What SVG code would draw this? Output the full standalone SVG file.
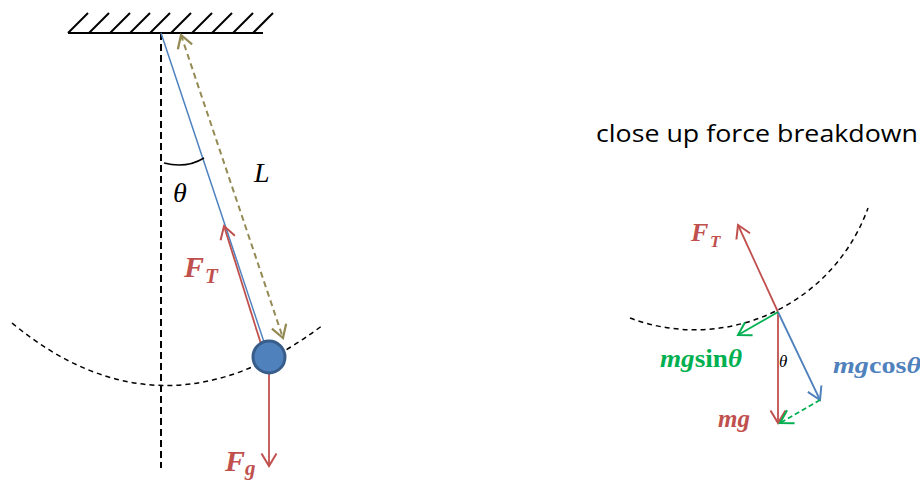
<svg xmlns="http://www.w3.org/2000/svg" width="920" height="481" viewBox="0 0 920 481">
<style>
.blk{stroke:#000;fill:none}
.math{font-family:"Liberation Serif","Times New Roman",serif;font-style:italic;font-weight:bold}
.it{font-family:"Liberation Serif","Times New Roman",serif;font-style:italic}
.up{font-style:normal}
.red{fill:#c0504d}
.blue{fill:#4f81bd}
.green{fill:#00b050}
</style>
<defs>
<marker id="aRed" markerUnits="userSpaceOnUse" orient="auto" markerWidth="20" markerHeight="20" viewBox="-12 -8 14 16" refX="0" refY="0"><path d="M-10,-6 L0,0 L-10,6" fill="none" stroke="#c0504d" stroke-width="1.6"/></marker>
<marker id="aBlue" markerUnits="userSpaceOnUse" orient="auto" markerWidth="20" markerHeight="20" viewBox="-12 -8 14 16" refX="0" refY="0"><path d="M-10,-6 L0,0 L-10,6" fill="none" stroke="#4f81bd" stroke-width="1.6"/></marker>
<marker id="aGreen" markerUnits="userSpaceOnUse" orient="auto" markerWidth="20" markerHeight="20" viewBox="-12 -8 14 16" refX="0" refY="0"><path d="M-10,-6 L0,0 L-10,6" fill="none" stroke="#00b050" stroke-width="1.6"/></marker>
<marker id="aOlive" markerUnits="userSpaceOnUse" orient="auto-start-reverse" markerWidth="20" markerHeight="20" viewBox="-12 -8 14 16" refX="0" refY="0"><path d="M-10,-6 L0,0 L-10,6" fill="none" stroke="#948a54" stroke-width="1.8"/></marker>
</defs>

<g id="ceiling" stroke="#000" stroke-width="2">
<line x1="68" y1="33" x2="263" y2="33"/>
<line x1="68" y1="33" x2="88" y2="13"/>
<line x1="89" y1="33" x2="109" y2="13"/>
<line x1="110" y1="33" x2="130" y2="13"/>
<line x1="130" y1="33" x2="150" y2="13"/>
<line x1="150" y1="33" x2="170" y2="13"/>
<line x1="171" y1="33" x2="191" y2="13"/>
<line x1="192" y1="33" x2="212" y2="13"/>
<line x1="212" y1="33" x2="232" y2="13"/>
<line x1="233" y1="33" x2="253" y2="13"/>
<line x1="253" y1="33" x2="273" y2="13"/>
</g>

<g id="connectors">
<line id="vertical" x1="161" y1="33" x2="161" y2="468" stroke="#000" stroke-width="2" stroke-dasharray="7,4"/>
<path id="swing-arc" d="M12,323 Q162,447 323,325" class="blk" stroke-width="1.5" stroke-dasharray="5,4"/>
<line id="string" x1="161" y1="33" x2="269" y2="357" stroke="#4f81bd" stroke-width="1.5"/>
<line id="L-dim" x1="181" y1="35" x2="283" y2="338" stroke="#948a54" stroke-width="2" stroke-dasharray="6,4" marker-start="url(#aOlive)" marker-end="url(#aOlive)"/>
<path id="theta-arc" d="M164,163 Q186,169 204,158" class="blk" stroke-width="1.5"/>
<line id="FT-left" x1="261" y1="344" x2="224" y2="226" stroke="#c0504d" stroke-width="1.8" marker-end="url(#aRed)"/>
<line id="Fg" x1="269" y1="373" x2="269" y2="466" stroke="#c0504d" stroke-width="1.8" marker-end="url(#aRed)"/>

<path id="close-arc" d="M630,318 A184,184 0 0 0 868,208" class="blk" stroke-width="1.5" stroke-dasharray="5,4"/>
<line id="FT-right" x1="778" y1="312" x2="738" y2="225" stroke="#c0504d" stroke-width="1.8" marker-end="url(#aRed)"/>
<line id="mg" x1="778" y1="312" x2="778" y2="423" stroke="#c0504d" stroke-width="1.8" marker-end="url(#aRed)"/>
<line id="mgcos" x1="778" y1="312" x2="820" y2="400" stroke="#4f81bd" stroke-width="1.8" marker-end="url(#aBlue)"/>
<line id="mgsin" x1="778" y1="312" x2="738" y2="335" stroke="#00b050" stroke-width="1.8" marker-end="url(#aGreen)"/>
<line id="comp-dash" x1="820" y1="400" x2="780" y2="423" stroke="#00b050" stroke-width="1.8" stroke-dasharray="5,3" marker-end="url(#aGreen)"/>
</g>

<g id="bob">
<circle cx="269" cy="357" r="16" fill="#4f81bd" stroke="#385d8a" stroke-width="3"/>
</g>

<g id="labels-left">
<text x="173" y="202" class="it" font-size="28">θ</text>
<text x="254" y="182" class="it" font-size="28">L</text>
<text x="184" y="277" class="math red" font-size="30">F</text>
<text x="205" y="283" class="math red" font-size="21">T</text>
<text x="225" y="471" class="math red" font-size="30">F</text>
<text x="245" y="475" class="math red" font-size="21">g</text>
</g>

<g id="labels-right">
<text x="596" y="142" font-family="'Open Sans','Noto Sans',sans-serif" font-size="24" fill="#000" textLength="322" lengthAdjust="spacingAndGlyphs">close up force breakdown</text>
<text x="691" y="241" class="math red" font-size="26">F</text>
<text x="710" y="247" class="math red" font-size="17">T</text>
<text x="718" y="427" class="math red" font-size="25">mg</text>
<text x="660" y="367" class="math green" font-size="25" textLength="82" lengthAdjust="spacingAndGlyphs">mg<tspan class="up">sin</tspan>θ</text>
<text x="833" y="373" class="math blue" font-size="24" textLength="88" lengthAdjust="spacingAndGlyphs">mg<tspan class="up">cos</tspan>θ</text>
<text x="779" y="367" class="it" font-size="17">θ</text>
</g>
</svg>
